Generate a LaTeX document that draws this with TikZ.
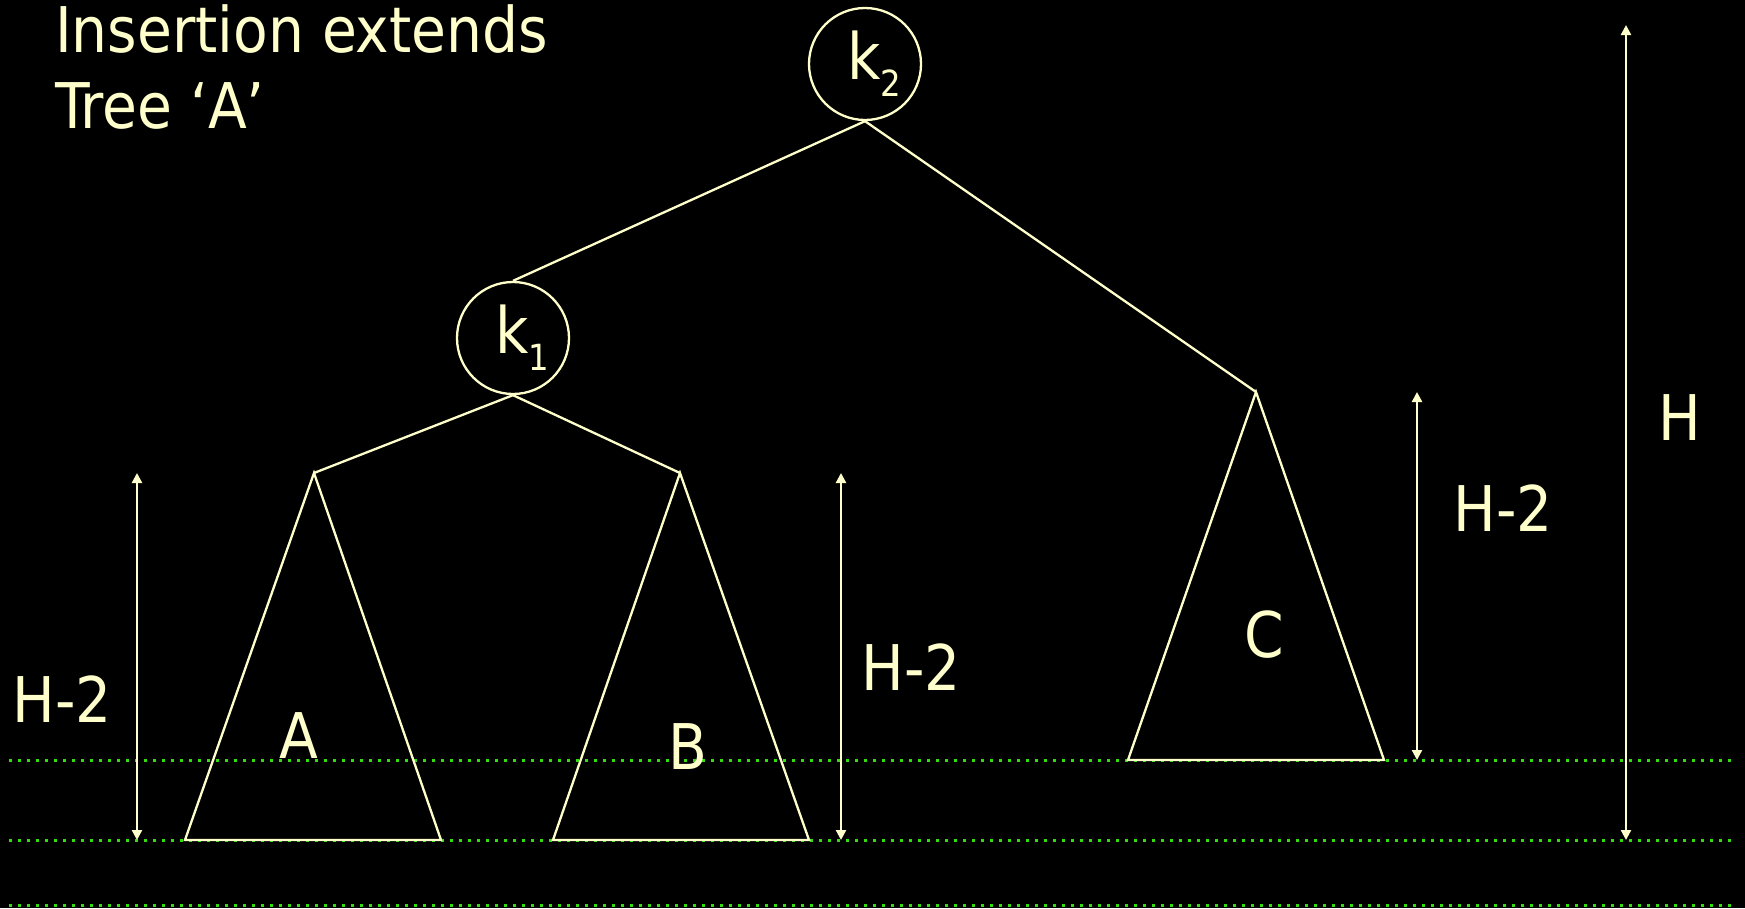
\documentclass[tikz,border=0pt]{standalone}
\usepackage{fontspec}
\setmainfont{DejaVu Sans Condensed}
\usetikzlibrary{arrows.meta}
\tikzset{>=Stealth}
\definecolor{chalk}{RGB}{255,255,204}
\definecolor{levelgreen}{RGB}{51,221,17}
\newcommand{\knode}[1]{\hspace*{18pt}k\raisebox{-17pt}{\fontsize{36}{36}\selectfont #1}}

\begin{document}
\begin{tikzpicture}[
    x=1pt, y=-1pt,
    key/.style={draw=chalk, circle, line width=2.3pt, minimum size=112pt, inner sep=0pt,
                text=chalk, font=\fontsize{64}{64}\selectfont},
    lab/.style={text=chalk, inner sep=0pt, font=\fontsize{63}{63}\selectfont},
    branch/.style={draw=chalk, line width=2.3pt},
    subtree/.style={draw=chalk, line width=2.3pt},
    dim/.style={{Triangle[width=10pt,length=10pt]}-{Triangle[width=10pt,length=10pt]},
                draw=chalk, line width=2.3pt},
    ground/.style={draw=levelgreen, line width=3pt, dash pattern=on 3pt off 6pt}
  ]
    \fill[black] (0,0) rectangle (1745,908);

    \foreach \y in {760,840,905}
      \draw[ground] (9,\y) -- (1736,\y);

    \node[lab, anchor=base west, font=\fontsize{63}{63}\selectfont] (title1) at (55,52) {Insertion extends};
    \node[lab, anchor=base west, font=\fontsize{63}{63}\selectfont] (title2) at (55,128) {Tree ‘A’};

    \node[key] (k2) at (865,64)  {\knode{2}};
    \node[key] (k1) at (513,338) {\knode{1}};

    \coordinate (topA) at (314,473);
    \coordinate (topB) at (680,473);
    \coordinate (topC) at (1256,392);

    \draw[branch] (k2.south) -- (k1.north);
    \draw[branch] (k2.south) -- (topC);
    \draw[branch] (k1.south) -- (topA);
    \draw[branch] (k1.south) -- (topB);

    \draw[subtree] (topA) -- (185,840) -- (441,840) -- cycle;
    \draw[subtree] (topB) -- (553,840) -- (809,840) -- cycle;
    \draw[subtree] (topC) -- (1128,760) -- (1384,760) -- cycle;

    \node[lab] (nameA) at (299,736) {A};
    \node[lab] (nameB) at (688,747) {B};
    \node[lab] (nameC) at (1264,635) {C};

    \draw[dim] (137,473) -- (137,840);
    \draw[dim] (841,473) -- (841,840);
    \draw[dim] (1417,392) -- (1417,760);
    \draw[dim] (1626,25) -- (1626,840);

    \node[lab] (hA)   at (62,699)   {H-2};
    \node[lab] (hB)   at (911,667)  {H-2};
    \node[lab] (hC)   at (1503,508) {H-2};
    \node[lab] (hAll) at (1680,418) {H};
  \end{tikzpicture}
\end{document}
